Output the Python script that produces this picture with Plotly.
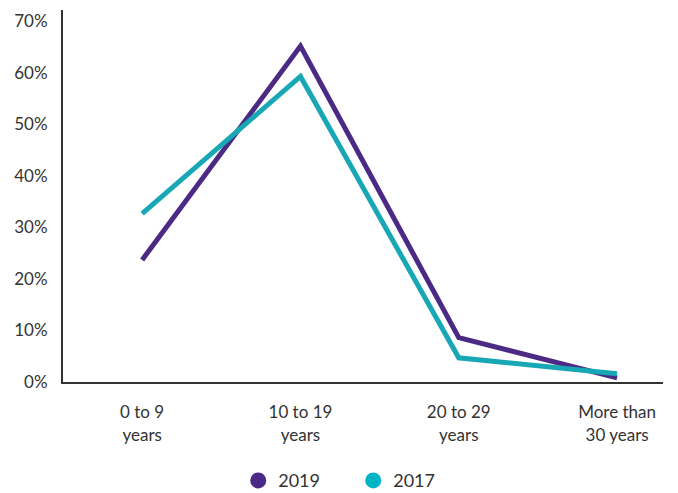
import plotly.graph_objects as go

categories = ["0 to 9<br>years", "10 to 19<br>years", "20 to 29<br>years", "More than<br>30 years"]
series_2019 = [23.7, 65.2, 8.6, 0.8]
series_2017 = [32.7, 59.3, 4.7, 1.6]
y_ticks = [0, 10, 20, 30, 40, 50, 60, 70]
y_tick_labels = [f"{v}%" for v in y_ticks]

purple = "#4B2A86"
teal = "#18A8B5"
teal_legend = "#00B4C6"
font_family = "Lato, 'Open Sans', sans-serif"
text_color = "#333333"

x_idx = list(range(len(categories)))

fig = go.Figure()
fig.add_trace(go.Scatter(x=x_idx, y=series_2019, mode="lines", name="2019",
                         line=dict(color=purple, width=5), showlegend=False))
fig.add_trace(go.Scatter(x=x_idx, y=series_2017, mode="lines", name="2017",
                         line=dict(color=teal, width=5), showlegend=False))
# legend entries drawn as round markers
fig.add_trace(go.Scatter(x=[None], y=[None], mode="markers", name="2019",
                         marker=dict(color=purple, size=17)))
fig.add_trace(go.Scatter(x=[None], y=[None], mode="markers", name="2017",
                         marker=dict(color=teal_legend, size=17)))

fig.update_layout(
    width=678, height=493,
    margin=dict(l=63, r=15, t=10, b=111),
    plot_bgcolor="white", paper_bgcolor="white",
    font=dict(family=font_family, size=17, color=text_color),
    legend=dict(orientation="h", xref="container", yref="container",
                x=0.521, xanchor="center", y=0.025, yanchor="middle",
                font=dict(size=18), itemsizing="trace",
                tracegroupgap=0, itemwidth=30,
                entrywidth=70, entrywidthmode="pixels"),
    showlegend=True,
)
fig.update_xaxes(
    tickmode="array", tickvals=x_idx, ticktext=categories,
    range=[-0.5, 3.29], showgrid=False, zeroline=False,
    showline=True, linecolor="#333333", linewidth=2, ticks="",
    ticklabelstandoff=14,
)
fig.update_yaxes(
    tickmode="array", tickvals=y_ticks, ticktext=y_tick_labels,
    range=[0, 72.2], showgrid=False, zeroline=False,
    showline=True, linecolor="#333333", linewidth=2, ticks="",
    ticklabelstandoff=10,
)

fig.write_html("out.html")
